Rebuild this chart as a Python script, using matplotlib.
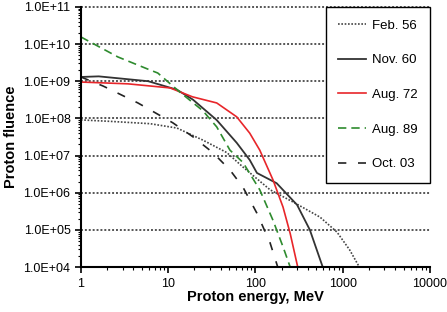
import matplotlib.pyplot as plt
import matplotlib.ticker as ticker

plt.rcParams['font.family'] = ['Liberation Sans', 'DejaVu Sans']

# Daten
e_feb56 = [1, 2.2, 6.2, 12.6, 25, 47, 72, 147, 283, 550, 860, 1200, 1550]
f_feb56 = [9.1e7, 8.3e7, 7.2e7, 5.5e7, 2.6e7, 1.2e7, 4.9e6, 1.2e6, 5.3e5, 2.2e5, 8.7e4, 2.9e4, 1e4]

e_nov60 = [1, 1.6, 5.9, 12.6, 19.2, 36, 61, 86, 104, 175, 300, 420, 590]
f_nov60 = [1.3e9, 1.35e9, 1e9, 5.9e8, 3.2e8, 9e7, 2.2e7, 7.6e6, 3.4e6, 1.8e6, 4.7e5, 1e5, 1e4]

e_aug72 = [1, 3.45, 10.5, 19, 36, 61, 86, 112, 159, 207, 250, 305]
f_aug72 = [9.5e8, 8.5e8, 6.6e8, 3.8e8, 2.6e8, 1.1e8, 4e7, 1.4e7, 2.2e6, 4.1e5, 8e4, 1e4]

e_aug89 = [1, 2.65, 6.2, 7.6, 13.6, 25, 36, 51, 72, 112, 159, 207, 250]
f_aug89 = [1.55e10, 4.5e9, 2e9, 1.66e9, 5.1e8, 1.6e8, 5.9e7, 1.4e7, 6.5e6, 1.2e6, 1.8e5, 3.5e4, 1e4]

e_oct03 = [1, 1.8, 4.5, 6.2, 11.3, 19.2, 32.5, 51, 72, 104, 147, 180]
f_oct03 = [1.3e9, 7.4e8, 2.6e8, 1.7e8, 7.6e7, 3.2e7, 1.2e7, 4.1e6, 1.4e6, 2.8e5, 4.5e4, 1e4]

fig = plt.figure(figsize=(4.47, 3.12), dpi=100)
ax = fig.add_axes([0.181, 0.144, 0.781, 0.834])

ax.loglog(e_feb56, f_feb56, color='#444444', linestyle=(0, (1, 1)), linewidth=1.2, label='Feb. 56')
ax.loglog(e_nov60, f_nov60, color='#333333', linestyle='-', linewidth=1.3, label='Nov. 60')
ax.loglog(e_aug72, f_aug72, color='#e8262a', linestyle='-', linewidth=1.2, label='Aug. 72')
ax.loglog(e_aug89, f_aug89, color='#2e8b2e', linestyle=(0, (5, 3)), linewidth=1.2, label='Aug. 89')
ax.loglog(e_oct03, f_oct03, color='#222222', linestyle=(0, (5, 7)), linewidth=1.2, label='Oct. 03')

ax.set_xlim(1, 10000)
ax.set_ylim(1e4, 1e11)

# Gitter nur horizontal
for v in [1e5, 1e6, 1e7, 1e8, 1e9, 1e10, 1e11]:
    ax.axhline(v, color='#555555', linestyle=(0, (1, 1)), linewidth=1.4, zorder=0.5, clip_on=False)

for s in ['top', 'right']:
    ax.spines[s].set_visible(False)
ax.spines['left'].set_linewidth(1.5)
ax.spines['bottom'].set_linewidth(1.5)

ax.yaxis.set_major_locator(ticker.LogLocator(base=10, numticks=20))
ax.yaxis.set_major_formatter(ticker.FuncFormatter(lambda v, p: f"{v:.1E}"))
ax.yaxis.set_minor_locator(ticker.LogLocator(base=10, subs=range(2, 10), numticks=20))
ax.yaxis.set_minor_formatter(ticker.NullFormatter())
ax.xaxis.set_major_formatter(ticker.FuncFormatter(lambda v, p: f"{int(v)}"))
ax.xaxis.set_minor_locator(ticker.LogLocator(base=10, subs=range(2, 10), numticks=20))
ax.xaxis.set_minor_formatter(ticker.NullFormatter())

ax.tick_params(which='major', length=4, width=1.2, labelsize=9)
ax.tick_params(which='minor', length=2.5, width=0.8)
ax.tick_params(axis='x', pad=4)

ax.set_xlabel('Proton energy, MeV', fontsize=10.5, fontweight='bold', labelpad=0)
ax.set_ylabel('Proton fluence', fontsize=10.5, fontweight='bold', labelpad=4)

leg = ax.legend(loc='upper right', bbox_to_anchor=(1.0, 1.0), fontsize=9.5,
                frameon=True, fancybox=False, edgecolor='black', framealpha=1,
                labelspacing=1.7, handlelength=2.1, handletextpad=0.45,
                borderpad=0.95, borderaxespad=0)
leg.get_frame().set_linewidth(1.0)

plt.savefig('out.png', dpi=100)
